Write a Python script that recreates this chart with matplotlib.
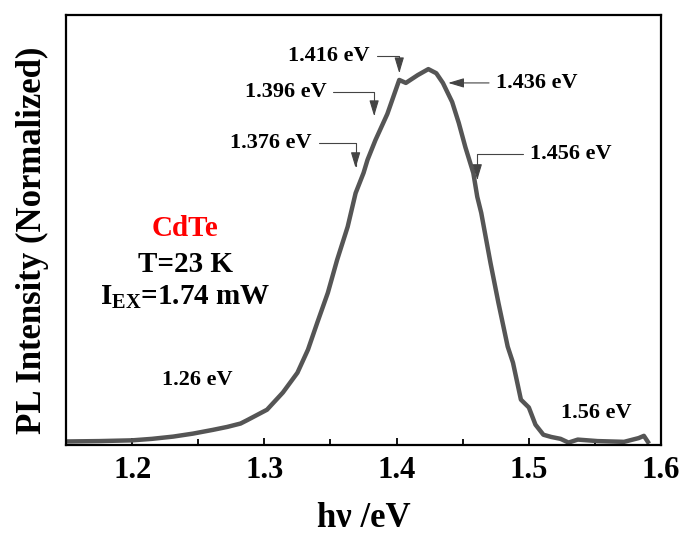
import matplotlib
matplotlib.use('Agg')
import matplotlib.pyplot as plt
from matplotlib.ticker import MultipleLocator, NullLocator

# --- data ---
energy = [1.150, 1.175, 1.200, 1.215, 1.231, 1.246, 1.261, 1.272, 1.282, 1.287,
          1.302, 1.314, 1.325, 1.333, 1.340, 1.348, 1.355, 1.363, 1.369, 1.375,
          1.378, 1.384, 1.393, 1.402, 1.407, 1.416, 1.424, 1.430, 1.435, 1.442,
          1.447, 1.452, 1.458, 1.461, 1.464, 1.471, 1.477, 1.484, 1.488, 1.494,
          1.500, 1.505, 1.511, 1.517, 1.524, 1.530, 1.537, 1.552, 1.572, 1.583,
          1.587, 1.590]
intensity = [0.003, 0.004, 0.006, 0.010, 0.016, 0.024, 0.034, 0.042, 0.051, 0.060,
             0.088, 0.134, 0.187, 0.249, 0.321, 0.401, 0.489, 0.578, 0.668, 0.722,
             0.757, 0.810, 0.880, 0.971, 0.963, 0.984, 1.000, 0.989, 0.963, 0.912,
             0.856, 0.791, 0.722, 0.658, 0.615, 0.481, 0.374, 0.257, 0.214, 0.115,
             0.094, 0.048, 0.021, 0.015, 0.010, 0.000, 0.008, 0.004, 0.002, 0.012,
             0.018, 0.002]

peak_labels = ['1.416 eV', '1.396 eV', '1.376 eV', '1.456 eV']
peak_tips = [(1.402, 0.989), (1.383, 0.874), (1.369, 0.735), (1.461, 0.703)]
peak_text = [(1.349, 1.035), (1.316, 0.938), (1.305, 0.802), (1.532, 0.772)]
side_label = '1.436 eV'
side_tip = (1.439, 0.963)
side_text = (1.506, 0.963)
edge_labels = ['1.26 eV', '1.56 eV']
edge_pos = [(1.249, 0.168), (1.551, 0.080)]

plt.rcParams['font.family'] = ['Liberation Serif', 'DejaVu Serif']
plt.rcParams['font.weight'] = 'bold'
plt.rcParams['mathtext.fontset'] = 'custom'
plt.rcParams['mathtext.rm'] = 'Liberation Serif:bold'
plt.rcParams['mathtext.bf'] = 'Liberation Serif:bold'
plt.rcParams['mathtext.it'] = 'Liberation Serif:bold'

fig = plt.figure(figsize=(6.84, 5.34), dpi=100)
ax = fig.add_axes([0.0965, 0.167, 0.870, 0.805])

ax.plot(energy, intensity, color='#555555', lw=3.2, solid_joinstyle='round')

ax.set_xlim(1.15, 1.6)
ax.set_ylim(-0.006, 1.145)
ax.xaxis.set_major_locator(MultipleLocator(0.1))
ax.xaxis.set_minor_locator(MultipleLocator(0.05))
ax.yaxis.set_major_locator(NullLocator())
ax.tick_params(axis='x', which='both', direction='in', top=False, width=1.3,
               labelsize=22, pad=8)
ax.tick_params(axis='x', which='major', length=5)
ax.tick_params(axis='x', which='minor', length=4)
for s in ax.spines.values():
    s.set_linewidth(1.6)

ax.set_xlabel('hν /eV', fontsize=25, fontweight='bold', labelpad=12)
ax.set_ylabel('PL Intensity (Normalized)', fontsize=25, fontweight='bold')
ax.yaxis.set_label_coords(-0.028, 0.475)

arrow_kw = dict(arrowstyle='-|>,head_length=0.6,head_width=0.18', color='#444444',
                lw=0.8, shrinkA=3, shrinkB=0)
for lab, tip, txt in zip(peak_labels, peak_tips, peak_text):
    ax.annotate(lab, xy=tip, xytext=txt, fontsize=16, fontweight='bold',
                ha='center', va='center',
                arrowprops=dict(connectionstyle='angle,angleA=0,angleB=90,rad=0',
                                **arrow_kw))
ax.annotate(side_label, xy=side_tip, xytext=side_text, fontsize=16, fontweight='bold',
            ha='center', va='center', arrowprops=arrow_kw)

for lab, pos in zip(edge_labels, edge_pos):
    ax.text(pos[0], pos[1], lab, fontsize=16, fontweight='bold', ha='center', va='center')

ax.text(1.240, 0.572, 'CdTe', color='red', fontsize=21, fontweight='bold',
        ha='center', va='center')
ax.text(1.240, 0.476, 'T=23 K', fontsize=21, fontweight='bold', ha='center', va='center')
ax.text(1.240, 0.388, r'I$_{\mathbf{EX}}$=1.74 mW', fontsize=21, fontweight='bold',
        ha='center', va='center')

fig.savefig('out.png', dpi=100)
